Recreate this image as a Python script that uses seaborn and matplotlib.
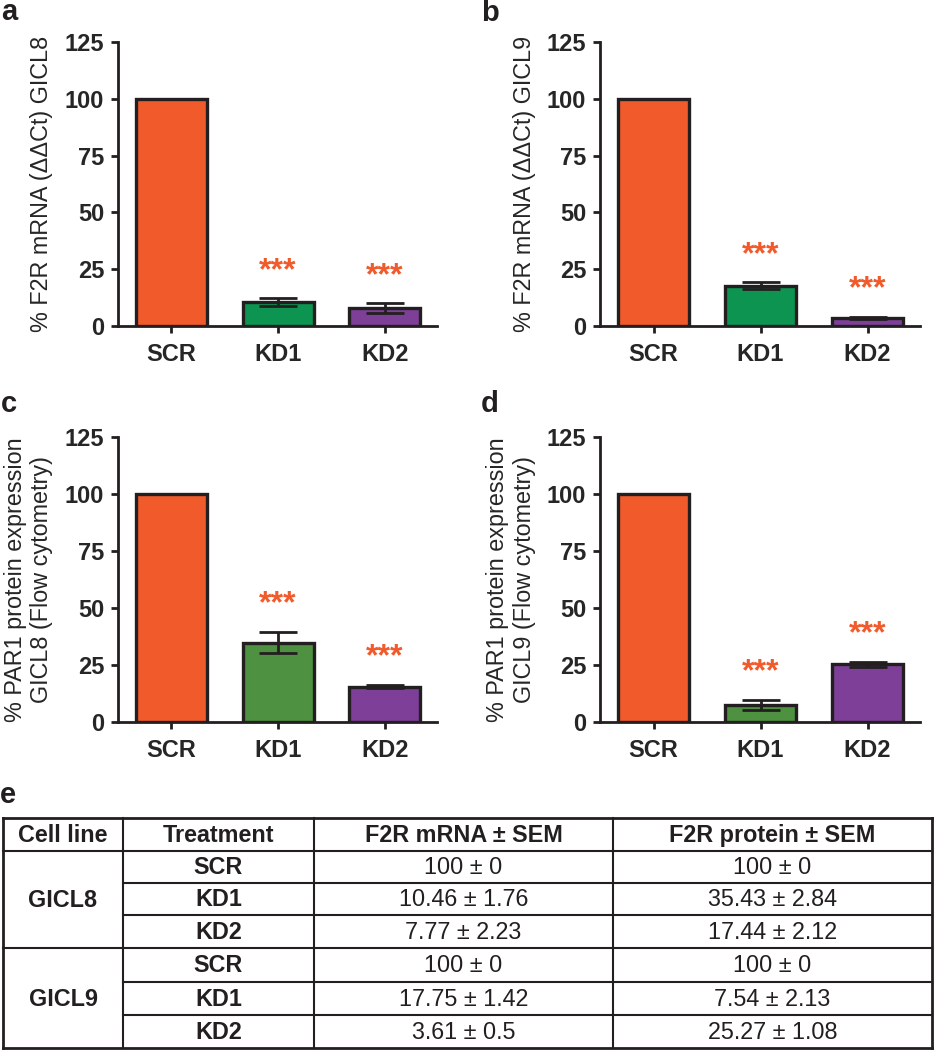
import matplotlib
matplotlib.use('Agg')
import matplotlib.pyplot as plt
import seaborn as sns
import pandas as pd

# bar chart data
categories = ['SCR', 'KD1', 'KD2']
mrna_gicl8 = [100, 10.46, 7.77]
mrna_gicl8_err = [0, 1.76, 2.23]
mrna_gicl9 = [100, 17.75, 3.61]
mrna_gicl9_err = [0, 1.42, 0.5]
prot_gicl8 = [100, 34.8, 15.5]
prot_gicl8_err = [0, 4.7, 0.7]
prot_gicl9 = [100, 7.5, 25.3]
prot_gicl9_err = [0, 2.15, 1.0]

# table data
table_headers = ['Cell line', 'Treatment', 'F2R mRNA ± SEM', 'F2R protein ± SEM']
cell_lines = ['GICL8', 'GICL9']
table_mrna = ['100 ± 0', '10.46 ± 1.76', '7.77 ± 2.23', '100 ± 0', '17.75 ± 1.42', '3.61 ± 0.5']
table_protein = ['100 ± 0', '35.43 ± 2.84', '17.44 ± 2.12', '100 ± 0', '7.54 ± 2.13', '25.27 ± 1.08']

orange = '#F15A2B'
green_mrna = '#0C9450'
green_prot = '#4E9141'
purple = '#7E3F98'
ink = '#231F20'

sns.set_style('ticks')
plt.rcParams['font.family'] = ['Liberation Sans', 'DejaVu Sans']
plt.rcParams['axes.edgecolor'] = ink
plt.rcParams['text.color'] = ink

W, H = 935, 1050
fig = plt.figure(figsize=(W / 100, H / 100), dpi=100)


def px_axes(x0, x1, ytop, ybot):
    return fig.add_axes([x0 / W, 1 - ybot / H, (x1 - x0) / W, (ybot - ytop) / H])


def draw_panel(ax, values, errs, green, ylabel):
    df = pd.DataFrame({'group': categories, 'value': values})
    sns.barplot(data=df, x='group', y='value', hue='group',
                palette=[orange, green, purple], legend=False, width=0.665,
                saturation=1, edgecolor=ink, linewidth=2.4, ax=ax)
    ax.errorbar(range(len(values)), values, yerr=errs, fmt='none', ecolor=ink,
                elinewidth=2, capsize=13.5, capthick=2, zorder=3)
    for i, (v, e) in enumerate(zip(values, errs)):
        if i > 0:
            ax.text(i, v + e + 8.5, '***', color=orange, fontsize=23,
                    fontweight='bold', ha='center', va='baseline')
    ax.set_ylim(0, 125)
    ax.set_xlim(-0.5, 2.49)
    ax.set_yticks([0, 25, 50, 75, 100, 125])
    ax.set_xlabel('')
    ax.set_ylabel(ylabel, fontsize=16.8, labelpad=8, linespacing=1.2)
    sns.despine(ax=ax)
    for s in ['left', 'bottom']:
        ax.spines[s].set_linewidth(2)
    ax.tick_params(axis='both', length=5, width=2, color=ink, labelsize=17)
    ax.tick_params(axis='x', pad=7)
    ax.tick_params(axis='y', pad=5)
    for lab in ax.get_xticklabels() + ax.get_yticklabels():
        lab.set_fontweight('bold')


ax_a = px_axes(118, 437, 42, 326)
draw_panel(ax_a, mrna_gicl8, mrna_gicl8_err, green_mrna, '% F2R mRNA (ΔΔCt) GICL8')
ax_b = px_axes(600, 920, 42, 326)
draw_panel(ax_b, mrna_gicl9, mrna_gicl9_err, green_mrna, '% F2R mRNA (ΔΔCt) GICL9')
ax_c = px_axes(118, 437, 437, 722)
draw_panel(ax_c, prot_gicl8, prot_gicl8_err, green_prot,
           '% PAR1 protein expression\nGICL8 (Flow cytometry)')
ax_d = px_axes(600, 920, 437, 722)
draw_panel(ax_d, prot_gicl9, prot_gicl9_err, green_prot,
           '% PAR1 protein expression\nGICL9 (Flow cytometry)')

# panel letters
for letter, x, y in [('a', 1, 20), ('b', 481, 21), ('c', 1, 412), ('d', 481, 412), ('e', 0, 803)]:
    fig.text(x / W, 1 - y / H, letter, fontsize=21, fontweight='bold',
             ha='left', va='baseline')

# table e, drawn in pixel coordinates
tab = fig.add_axes([0, 0, 1, 1], zorder=-1)
tab.set_xlim(0, W)
tab.set_ylim(H, 0)
tab.axis('off')

col_edges = [3, 123, 314, 613, 932]
row_edges = [818, 851, 883, 915, 948, 982, 1015, 1048]

for x in col_edges:
    lw = 2 if x in (col_edges[0], col_edges[-1]) else 1.5
    tab.plot([x, x], [row_edges[0], row_edges[-1]], color=ink, lw=lw,
             solid_capstyle='projecting')
for j, y in enumerate(row_edges):
    full = j in (0, 1, 4, len(row_edges) - 1)
    lw = 2 if j in (0, len(row_edges) - 1) else 1.5
    tab.plot([col_edges[0] if full else col_edges[1], col_edges[-1]], [y, y],
             color=ink, lw=lw, solid_capstyle='projecting')


def cell_center(c, r0, r1=None):
    r1 = r0 if r1 is None else r1
    return ((col_edges[c] + col_edges[c + 1]) / 2,
            (row_edges[r0] + row_edges[r1 + 1]) / 2 + 1)


fs = 16.8
for c, h in enumerate(table_headers):
    x, y = cell_center(c, 0)
    tab.text(x, y, h, fontsize=fs, fontweight='bold', ha='center', va='center')

for g, line in enumerate(cell_lines):
    x, y = cell_center(0, 1 + 3 * g, 3 + 3 * g)
    tab.text(x, y, line, fontsize=fs, fontweight='bold', ha='center', va='center')
    for k, treat in enumerate(categories):
        r = 1 + 3 * g + k
        x, y = cell_center(1, r)
        tab.text(x, y, treat, fontsize=fs, fontweight='bold', ha='center', va='center')
        x, y = cell_center(2, r)
        tab.text(x, y, table_mrna[3 * g + k], fontsize=fs, ha='center', va='center')
        x, y = cell_center(3, r)
        tab.text(x, y, table_protein[3 * g + k], fontsize=fs, ha='center', va='center')

fig.savefig('out.png', dpi=100)
